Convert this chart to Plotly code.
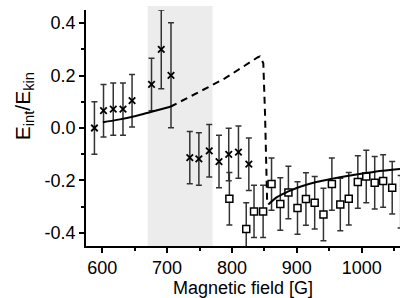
import plotly.graph_objects as go

# ---- data ----
cross_B = [588, 602, 617, 632, 646, 676, 691, 706, 735, 749, 765, 780, 795, 810, 826]
cross_E = [0.0, 0.066, 0.072, 0.072, 0.104, 0.166, 0.300, 0.201,
           -0.113, -0.118, -0.087, -0.128, -0.101, -0.092, -0.138]
cross_err = [0.1, 0.1, 0.1, 0.1, 0.1, 0.1, 0.15, 0.2,
             0.1, 0.1, 0.1, 0.1, 0.1, 0.1, 0.1]

square_B = [796, 822, 834, 848, 861, 874.5, 887, 901, 914, 927.5, 941, 954,
            967, 980, 994, 1007, 1020, 1033, 1047, 1060]
square_E = [-0.270, -0.385, -0.318, -0.318, -0.214, -0.290, -0.246, -0.305,
            -0.271, -0.285, -0.330, -0.214, -0.292, -0.270, -0.206, -0.185,
            -0.209, -0.202, -0.228, -0.281]
square_err = [0.1] * 20

theory_low_B = [601, 625, 650, 676, 705]
theory_low_E = [0.022, 0.032, 0.045, 0.062, 0.081]

theory_dash_B = [705, 735, 763, 789, 812, 840, 843, 848.3, 851, 853.6, 854.2]
theory_dash_E = [0.081, 0.118, 0.155, 0.189, 0.227, 0.270, 0.273, 0.247, 0.05, -0.22, -0.28]

theory_high_B = [856, 870, 887, 905, 930, 955, 980, 1006, 1032, 1059]
theory_high_E = [-0.292, -0.263, -0.242, -0.224, -0.206, -0.193, -0.182, -0.172, -0.163, -0.156]

shade_range = [670, 770]
x_range = [575, 1059]
y_range = [-0.45, 0.45]
x_ticks = [600, 700, 800, 900, 1000]
y_ticks = [-0.4, -0.2, 0.0, 0.2, 0.4]
y_ticktext = ["-0.4", "-0.2", "0.0", "0.2", "0.4"]

FONT = "Liberation Sans, Arial, sans-serif"
ERRC = "#333333"

fig = go.Figure()

fig.add_shape(type="rect", xref="x", yref="paper",
              x0=shade_range[0], x1=shade_range[1], y0=0, y1=1.017,
              fillcolor="#ececec", line_width=0, layer="below")

fig.add_trace(go.Scatter(
    x=cross_B, y=cross_E, mode="markers", cliponaxis=False,
    marker=dict(symbol="x-thin-open", size=6.5, color="black",
                line=dict(color="black", width=1.8)),
    error_y=dict(type="data", array=cross_err, visible=True,
                 color=ERRC, thickness=1.5, width=3)))

fig.add_trace(go.Scatter(
    x=square_B, y=square_E, mode="markers", cliponaxis=False,
    marker=dict(symbol="square", size=7, color="white",
                line=dict(color="black", width=1.5)),
    error_y=dict(type="data", array=square_err, visible=True,
                 color=ERRC, thickness=1.5, width=3)))

fig.add_trace(go.Scatter(x=theory_low_B, y=theory_low_E, mode="lines",
                         line=dict(color="black", width=2, shape="spline")))
fig.add_trace(go.Scatter(x=theory_dash_B, y=theory_dash_E, mode="lines",
                         line=dict(color="black", width=2, dash="7px,5px")))
fig.add_trace(go.Scatter(x=theory_high_B, y=theory_high_E, mode="lines",
                         line=dict(color="black", width=2, shape="spline")))

axis_common = dict(showline=True, linecolor="black", linewidth=1.5,
                   ticks="outside", ticklen=5, tickwidth=1.5, tickcolor="black",
                   showgrid=False, zeroline=False, mirror=False,
                   tickfont=dict(family=FONT, size=18, color="black"))

fig.update_xaxes(range=x_range, tickvals=x_ticks,
                 minor=dict(ticks="outside", ticklen=3, tickwidth=1.5,
                            tickcolor="black", dtick=50, tick0=0, showgrid=False),
                 **axis_common)
fig.update_yaxes(range=y_range, tickvals=y_ticks, ticktext=y_ticktext,
                 minor=dict(ticks="outside", ticklen=3, tickwidth=1.5,
                            tickcolor="black", dtick=0.1, tick0=0, showgrid=False),
                 **axis_common)

fig.add_annotation(text="E<sub>int</sub>/E<sub>kin</sub>", textangle=-90,
                   xref="paper", yref="paper", x=-0.197, y=0.593,
                   xanchor="center", yanchor="middle", showarrow=False,
                   font=dict(family=FONT, size=21, color="black"))
fig.add_annotation(text="Magnetic field [G]",
                   xref="paper", yref="paper", x=0.5, y=-0.125,
                   xanchor="center", yanchor="top", showarrow=False,
                   font=dict(family=FONT, size=18, color="black"))

fig.update_layout(width=415, height=298, showlegend=False,
                  margin=dict(l=86, r=15, t=10, b=52),
                  paper_bgcolor="white", plot_bgcolor="white")

fig.write_html("out.html", config={"displayModeBar": False},
               post_script="document.body.style.margin='0';document.body.style.padding='0';")
